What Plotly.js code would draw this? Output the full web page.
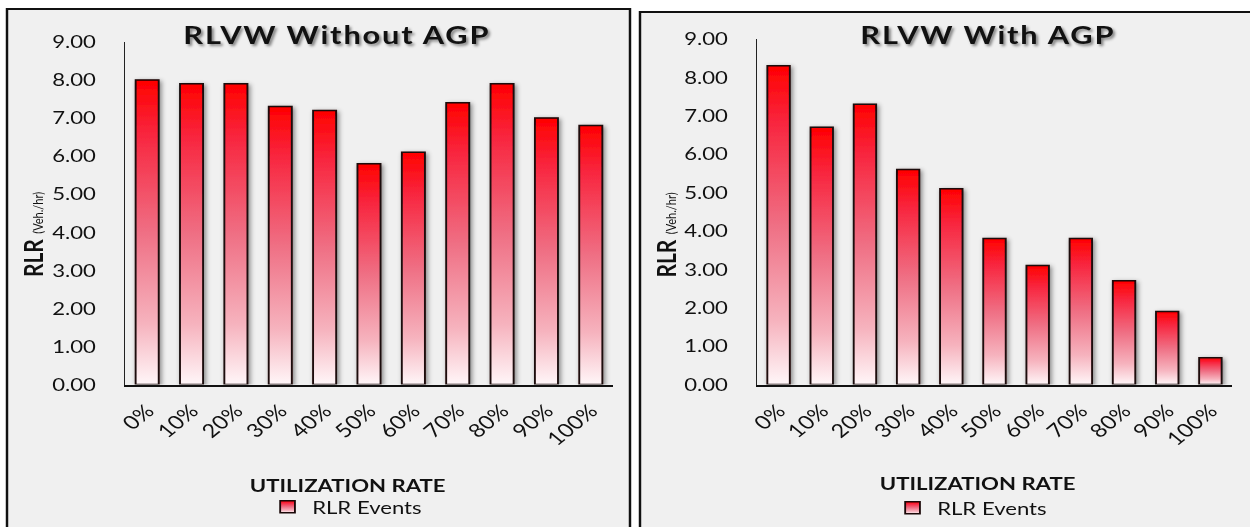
<!DOCTYPE html>
<html>
<head>
<meta charset="utf-8">
<script src="https://cdn.plot.ly/plotly-3.0.1.min.js"></script>
<style>
  html, body { margin: 0; padding: 0; background: #ffffff; overflow: hidden; }
  #wrap { width: 1250px; height: 527px; overflow: hidden; }
  /* the figure is laid out narrower and widened horizontally */
  #chart { width: 1016px; height: 527px; transform: scaleX(1.2303); transform-origin: 0 0; }
</style>
</head>
<body>
<div id="wrap"><div id="chart"></div></div>
<script>
// Utilization rates on the x axis
const rates = ['0%', '10%', '20%', '30%', '40%', '50%', '60%', '70%', '80%', '90%', '100%'];
// Red-light-running events (veh./hr) per utilization rate
const rlrWithoutAgp = [8.0, 7.9, 7.9, 7.3, 7.2, 5.8, 6.1, 7.4, 7.9, 7.0, 6.8];
const rlrWithAgp    = [8.3, 6.7, 7.3, 5.6, 5.1, 3.8, 3.1, 3.8, 2.7, 1.9, 0.7];
// Text
const panelTitles = ['RLVW Without AGP', 'RLVW With AGP'];
const xTitle = 'UTILIZATION RATE';
const yTitleMain = 'RLR';
const yTitleUnit = '(Veh./hr)';
const seriesName = 'RLR Events';

const W = 1250, H = 527;          // visual size
const FIG_W = 1016;               // layout width before widening
const px = v => v / W;            // horizontal pixel -> paper
const py = v => 1 - v / H;        // vertical pixel -> paper

const FONT = 'Lato, "Open Sans", sans-serif';
const INK = '#111111';

function barTrace(values, xa, ya, leg) {
  return {
    type: 'bar', x: rates, y: values, xaxis: xa, yaxis: ya,
    name: seriesName, legend: leg, width: 0.52,
    marker: { color: '#f0506a', line: { color: '#1a0808', width: 1.5 } },
    hoverinfo: 'skip'
  };
}

const data = [
  barTrace(rlrWithoutAgp, 'x', 'y', 'legend'),
  barTrace(rlrWithAgp, 'x2', 'y2', 'legend2')
];

function xAxis(domain, anchor) {
  return {
    domain: domain, anchor: anchor, type: 'category',
    showline: true, linecolor: INK, linewidth: 2,
    showgrid: false, zeroline: false, ticks: '', ticklabelstandoff: 6,
    tickangle: -45, tickfont: { family: FONT, size: 19, color: INK },
    fixedrange: true
  };
}
function yAxis(domain, anchor) {
  return {
    domain: domain, anchor: anchor, range: [0, 9], dtick: 1, tickformat: '.2f',
    showline: true, linecolor: '#222222', linewidth: 1,
    showgrid: false, zeroline: false, ticks: '', ticklabelstandoff: 19,
    tickfont: { family: FONT, size: 18, color: INK },
    fixedrange: true
  };
}

function legendBox(cx, cy) {
  return {
    x: cx, xanchor: 'center', y: cy, yanchor: 'middle', orientation: 'h',
    bgcolor: 'rgba(0,0,0,0)', itemwidth: 30,
    font: { family: FONT, size: 18, color: INK }
  };
}

const titleFont = { family: FONT, size: 25, color: INK, weight: 700,
                    shadow: '2px 2px 3px rgba(0,0,0,0.45)' };
const axisTitleFont = { family: FONT, size: 18, color: INK, weight: 700 };
const yTitleText = '<b>' + yTitleMain + '</b> <span style="font-size:11px">' + yTitleUnit + '</span>';

const layout = {
  width: FIG_W, height: H,
  margin: { l: 0, r: 0, t: 0, b: 0 },
  paper_bgcolor: '#ffffff', plot_bgcolor: 'rgba(0,0,0,0)',
  bargap: 0.48, showlegend: true,
  xaxis: xAxis([px(125), px(613)], 'y'),
  yaxis: yAxis([py(386), py(42)], 'x'),
  xaxis2: xAxis([px(757), px(1232)], 'y2'),
  yaxis2: yAxis([py(386), py(39)], 'x2'),
  legend: legendBox(px(346), py(509)),
  legend2: legendBox(px(971), py(510)),
  shapes: [
    { type: 'rect', xref: 'paper', yref: 'paper', layer: 'below',
      x0: px(7), x1: px(630), y0: -0.05, y1: py(9),
      fillcolor: '#f0f0f0', line: { color: INK, width: 2 } },
    { type: 'rect', xref: 'paper', yref: 'paper', layer: 'below',
      x0: px(640), x1: 1.05, y0: -0.05, y1: py(12),
      fillcolor: '#f0f0f0', line: { color: INK, width: 2 } }
  ],
  annotations: [
    { text: panelTitles[0], xref: 'paper', yref: 'paper', x: px(337), y: py(34),
      xanchor: 'center', yanchor: 'middle', showarrow: false, font: titleFont },
    { text: panelTitles[1], xref: 'paper', yref: 'paper', x: px(988), y: py(34),
      xanchor: 'center', yanchor: 'middle', showarrow: false, font: titleFont },
    { text: xTitle, xref: 'paper', yref: 'paper', x: px(347), y: py(487),
      xanchor: 'center', yanchor: 'middle', showarrow: false, font: axisTitleFont },
    { text: xTitle, xref: 'paper', yref: 'paper', x: px(977), y: py(485),
      xanchor: 'center', yanchor: 'middle', showarrow: false, font: axisTitleFont },
    { text: yTitleText, xref: 'paper', yref: 'paper', x: px(32), y: py(236),
      xanchor: 'center', yanchor: 'middle', showarrow: false, textangle: -90,
      font: { family: FONT, size: 21, color: INK } },
    { text: yTitleText, xref: 'paper', yref: 'paper', x: px(665), y: py(236),
      xanchor: 'center', yanchor: 'middle', showarrow: false, textangle: -90,
      font: { family: FONT, size: 21, color: INK } }
  ]
};

const SVGNS = 'http://www.w3.org/2000/svg';
function el(name, attrs) {
  const n = document.createElementNS(SVGNS, name);
  for (const k in attrs) n.setAttribute(k, attrs[k]);
  return n;
}

// Red-to-white vertical gradient and soft shadow for the bars
function decorate(gd) {
  const svg = gd.querySelector('.main-svg');
  let defs = svg.querySelector('defs');
  if (!defs) { defs = el('defs', {}); svg.insertBefore(defs, svg.firstChild); }
  const grad = el('linearGradient', { id: 'rlrFill', x1: 0, y1: 0, x2: 0, y2: 1 });
  [['0', '#ff0000'], ['0.18', '#f8263f'], ['0.5', '#ef6f84'], ['0.8', '#f6b3be'], ['1', '#fff6f8']]
    .forEach(([o, c]) => grad.appendChild(el('stop', { offset: o, 'stop-color': c })));
  defs.appendChild(grad);
  const filt = el('filter', { id: 'rlrShadow', x: '-40%', y: '-10%', width: '180%', height: '120%' });
  filt.appendChild(el('feDropShadow', { dx: 1.5, dy: 1.5, stdDeviation: 2,
                                        'flood-color': '#000', 'flood-opacity': 0.45 }));
  defs.appendChild(filt);

  gd.querySelectorAll('.bars .point path').forEach(p => {
    p.style.fill = 'url(#rlrFill)';
    p.setAttribute('filter', 'url(#rlrShadow)');
  });
  gd.querySelectorAll('.legendpoints path').forEach(p => {
    p.style.fill = 'url(#rlrFill)';
  });
  const ann = gd.querySelectorAll('.annotation-text');
  [0, 1].forEach(i => { if (ann[i]) ann[i].style.letterSpacing = '1.5px'; });
}

const gd = document.getElementById('chart');
Plotly.newPlot(gd, data, layout, { staticPlot: true, displayModeBar: false })
  .then(decorate);
</script>
</body>
</html>
